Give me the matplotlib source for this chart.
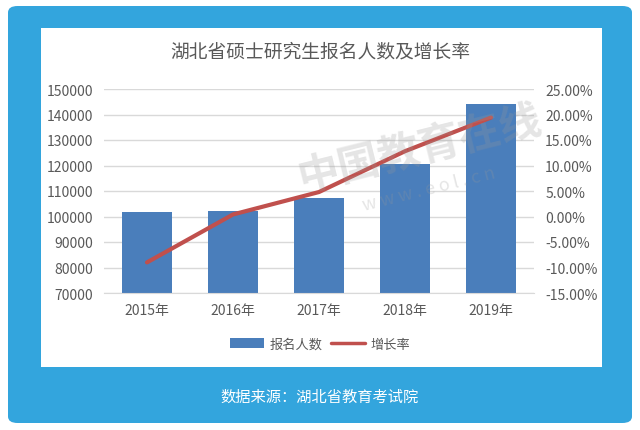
import matplotlib
matplotlib.use('Agg')
import matplotlib.pyplot as plt
from matplotlib.patches import FancyBboxPatch, Rectangle
from matplotlib.ticker import FuncFormatter

plt.rcParams['font.family'] = ['Noto Sans CJK SC', 'DejaVu Sans']

years = ['2015年', '2016年', '2017年', '2018年', '2019年']
applicants = [101600, 102100, 107200, 120600, 144000]
growth = [-9.0, 0.4, 4.8, 12.8, 19.4]

blue_frame = '#33a5dd'
bar_color = '#4a7ebb'
line_color = '#c0504d'
text_gray = '#595959'

fig = plt.figure(figsize=(6.4, 4.31), dpi=100)
W, H = 640, 431

# outer blue frame and white panel (behind the axes)
fig.patches.append(FancyBboxPatch((8 / W, 7 / H), 624 / W, 417 / H,
                                  boxstyle='round,pad=0,rounding_size=0.015',
                                  transform=fig.transFigure, facecolor=blue_frame,
                                  edgecolor='none', zorder=-2))
fig.patches.append(Rectangle((41 / W, 1 - 368 / H), 561 / W, 339 / H,
                             transform=fig.transFigure, facecolor='white',
                             edgecolor='none', zorder=-1))

ax = fig.add_axes([104 / W, 1 - 294 / H, 430 / W, 204 / H])
ax.set_facecolor('none')
x = range(len(years))
bars = ax.bar(x, applicants, width=0.57, color=bar_color, zorder=2, label='报名人数')
ax.set_ylim(70000, 150000)
ax.set_yticks(range(70000, 150001, 10000))
ax.set_xlim(-0.5, 4.5)
ax.set_xticks(list(x))
ax.set_xticklabels(years)
ax.grid(axis='y', color='#d9d9d9', linewidth=1, zorder=0)
ax.set_axisbelow(True)
for s in ax.spines.values():
    s.set_visible(False)
ax.spines['bottom'].set_visible(True)
ax.spines['bottom'].set_color('#d9d9d9')
ax.tick_params(length=0, labelsize=10, colors=text_gray, pad=8)
ax.tick_params(axis='x', pad=7)

ax2 = ax.twinx()
line, = ax2.plot(list(x), growth, color=line_color, linewidth=3, zorder=3, label='增长率',
                 solid_capstyle='round')
ax2.set_ylim(-15, 25)
ax2.set_yticks(range(-15, 26, 5))
ax2.yaxis.set_major_formatter(FuncFormatter(lambda v, p: '%.2f%%' % v))
for s in ax2.spines.values():
    s.set_visible(False)
ax2.tick_params(length=0, labelsize=10, colors=text_gray, pad=8)

# watermark
fig.text(0.655, 0.655, '中国教育在线', fontsize=30, color='#999999', alpha=0.25,
         rotation=14, ha='center', va='center', fontweight='bold')
fig.text(0.67, 0.56, 'w w w . e o l . c n', fontsize=13, color='#999999', alpha=0.25,
         rotation=14, ha='center', va='center')

fig.text(0.5, 1 - 52 / H, '湖北省硕士研究生报名人数及增长率', ha='center', va='center',
         fontsize=13.5, color=text_gray)

leg = fig.legend(handles=[bars, line], loc='center', bbox_to_anchor=(0.5, 1 - 345 / H),
                 ncol=2, frameon=False, fontsize=9.5, labelcolor=text_gray,
                 handlelength=2.6, handletextpad=0.4, columnspacing=0.6)
leg.get_lines()[0].set_linewidth(2.5)

fig.text(0.5, 1 - 397 / H, '数据来源：湖北省教育考试院', ha='center', va='center',
         fontsize=11, color='white')

fig.savefig('out.png', dpi=100)
